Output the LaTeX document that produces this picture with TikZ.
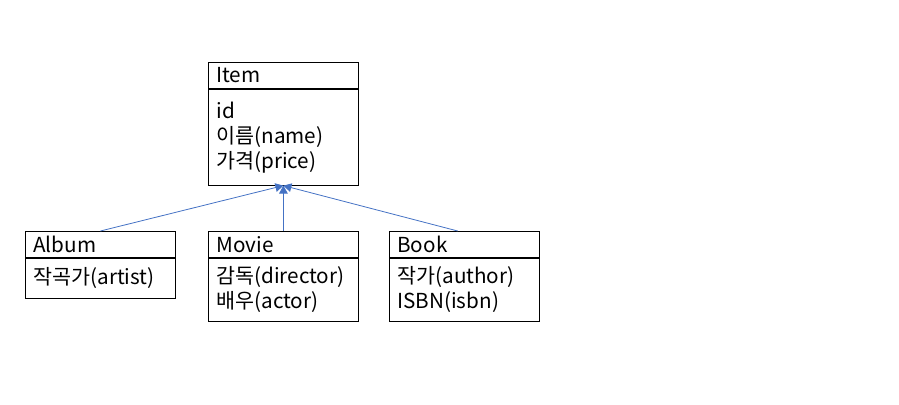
\documentclass[tikz,border=0pt]{standalone}
\usepackage{fontspec}
\setmainfont{Noto Sans CJK KR}
\usepackage{xcolor}
\usetikzlibrary{positioning,arrows.meta}
\definecolor{linkblue}{HTML}{4472C4}

\begin{document}
\begin{tikzpicture}[
    x=0.75pt, y=-0.75pt,
    font=\fontsize{15.5pt}{18.75pt}\selectfont,
    head/.style={draw, line width=0.6pt, rectangle, anchor=north west, align=left, text width=100.5pt, inner xsep=6pt, inner ysep=0pt, minimum height=19.5pt},
    attrs/.style={draw, line width=0.6pt, rectangle, anchor=north west, align=left, text width=100.5pt, inner xsep=6pt, inner ysep=0pt},
    inherit/.style={-{Triangle[width=6.5pt, length=6pt]}, linkblue, semithick}
]
\useasboundingbox (0,0) rectangle (899,404);

% Parent class
\node[head] (item) at (208,62) {Item};
\node[attrs, minimum height=72pt] (itemattrs) at (item.south west) {id\\이름(name)\\가격(price)};

% Child classes
\node[head] (album) at (25,231) {Album};
\node[attrs, minimum height=30pt] (albumattrs) at (album.south west) {작곡가(artist)};

\node[head] (movie) at (208,231) {Movie};
\node[attrs, minimum height=47.25pt] (movieattrs) at (movie.south west) {감독(director)\\배우(actor)};

\node[head] (book) at (389,231) {Book};
\node[attrs, minimum height=47.25pt] (bookattrs) at (book.south west) {작가(author)\\ISBN(isbn)};

% Inheritance arrows
\draw[inherit] (album.north) -- (itemattrs.south);
\draw[inherit] (movie.north) -- (itemattrs.south);
\draw[inherit] ([xshift=-5pt]book.north) -- (itemattrs.south);

\end{tikzpicture}
\end{document}
